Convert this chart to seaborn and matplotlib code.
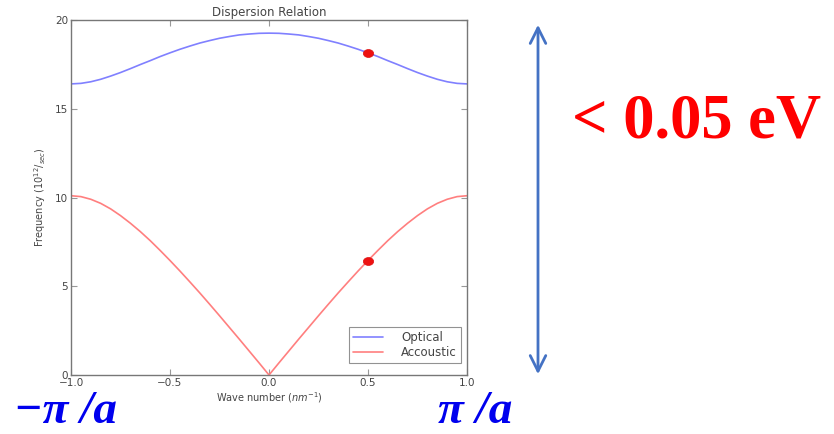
import matplotlib
matplotlib.use("Agg")
import matplotlib.pyplot as plt
from matplotlib.path import Path
from matplotlib.transforms import Affine2D
import seaborn as sns
import pandas as pd

# Wave number across the first Brillouin zone (nm^-1)
wave_number = [-1.0, -0.95, -0.9, -0.85, -0.8, -0.75, -0.7, -0.65, -0.6, -0.55,
               -0.5, -0.45, -0.4, -0.35, -0.3, -0.25, -0.2, -0.15, -0.1, -0.05,
               0.0, 0.05, 0.1, 0.15, 0.2, 0.25, 0.3, 0.35, 0.4, 0.45,
               0.5, 0.55, 0.6, 0.65, 0.7, 0.75, 0.8, 0.85, 0.9, 0.95, 1.0]

# Optical branch frequency (10^12 / sec)
optical = [16.40, 16.43, 16.52, 16.66, 16.84, 17.04, 17.26, 17.49, 17.71, 17.94,
           18.15, 18.35, 18.53, 18.70, 18.84, 18.97, 19.07, 19.16, 19.21, 19.25,
           19.26, 19.25, 19.21, 19.16, 19.07, 18.97, 18.84, 18.70, 18.53, 18.35,
           18.15, 17.94, 17.71, 17.49, 17.26, 17.04, 16.84, 16.66, 16.52, 16.43, 16.40]

# Acoustic branch frequency (10^12 / sec)
acoustic = [10.10, 10.05, 9.90, 9.67, 9.36, 8.98, 8.55, 8.08, 7.57, 7.02,
            6.45, 5.86, 5.25, 4.63, 3.99, 3.34, 2.68, 2.02, 1.35, 0.68,
            0.00, 0.68, 1.35, 2.02, 2.68, 3.34, 3.99, 4.63, 5.25, 5.86,
            6.45, 7.02, 7.57, 8.08, 8.55, 8.98, 9.36, 9.67, 9.90, 10.05, 10.10]

# Highlighted states at k = 0.5
marked_k = [0.5, 0.5]
marked_freq = [18.15, 6.45]

x_ticks = [-1.0, -0.5, 0.0, 0.5, 1.0]
x_tick_labels = ["\u22121.0", "\u22120.5", "0.0", "0.5", "1.0"]
y_ticks = [0, 5, 10, 15, 20]
y_tick_labels = ["0", "5", "10", "15", "20"]

sns.set_style("white")
plt.rcParams["font.family"] = ["DejaVu Sans"]

fig = plt.figure(figsize=(8.34, 4.34), dpi=100)
ax = fig.add_axes([71 / 834, 1 - 375 / 434, (467 - 71) / 834, (375 - 20) / 434])

branches = pd.DataFrame({
    "k": wave_number * 2,
    "freq": optical + acoustic,
    "branch": ["Optical"] * len(wave_number) + ["Accoustic"] * len(wave_number),
})
sns.lineplot(data=branches, x="k", y="freq", hue="branch",
             palette={"Optical": "#8080ff", "Accoustic": "#ff7f7f"},
             linewidth=1.2, ax=ax, sort=False, estimator=None)

# Slightly wide oval marker for the highlighted states
circle = Path.unit_circle()
oval = Path(Affine2D().scale(1.3, 1.0).transform(circle.vertices), circle.codes)
sns.scatterplot(x=marked_k, y=marked_freq, color="#ee1111", s=55, marker=oval,
                edgecolor="#dd1111", linewidth=0.5, ax=ax, zorder=5)

ax.set_xlim(-1.0, 1.0)
ax.set_ylim(0, 20)
ax.set_xticks(x_ticks)
ax.set_xticklabels(x_tick_labels)
ax.set_yticks(y_ticks)
ax.set_yticklabels(y_tick_labels)
ax.tick_params(direction="in", length=4, width=0.8, colors="#999999",
               labelcolor="#444444", labelsize=7.5, top=True, right=True,
               bottom=True, left=True, pad=2)
for spine in ax.spines.values():
    spine.set_color("#777777")
    spine.set_linewidth(1.0)

ax.set_title("Dispersion Relation", fontsize=8.5, color="#444444", pad=3)
ax.set_xlabel("Wave number ($nm^{-1}$)", fontsize=7, color="#444444", labelpad=2)
ax.set_ylabel("Frequency ($10^{12}/_{sec}$)", fontsize=7, color="#444444", labelpad=5)

leg = ax.legend(loc="lower right", fontsize=8.5, frameon=True, fancybox=False,
                borderpad=0.35, handlelength=2.6, handletextpad=1.5,
                labelspacing=0.15, borderaxespad=0,
                bbox_to_anchor=(1 - 6 / 396, 12 / 355))
leg.get_frame().set_edgecolor("#777777")
leg.get_frame().set_linewidth(0.8)
for txt in leg.get_texts():
    txt.set_color("#444444")

# Double-headed arrow spanning the frequency range
fig.patches.append(matplotlib.patches.FancyArrowPatch(
    (538 / 834, 1 - 377 / 434), (538 / 834, 1 - 22 / 434),
    transform=fig.transFigure, arrowstyle="<->,head_length=7,head_width=3.5",
    color="#4472c4", linewidth=2.0, mutation_scale=1.6))

fig.text(572 / 834, 1 - 123 / 434, "< 0.05 eV", color="#ff0000",
         fontsize=45, fontweight="bold", family=["Liberation Serif"],
         ha="left", va="center")
fig.text(14 / 834, 1 - 412 / 434, "\u2212\u03c0 /a", color="#0000ee",
         fontsize=34, fontweight="bold", fontstyle="italic",
         family=["Liberation Serif"], ha="left", va="center")
fig.text(438 / 834, 1 - 412 / 434, "\u03c0 /a", color="#0000ee",
         fontsize=34, fontweight="bold", fontstyle="italic",
         family=["Liberation Serif"], ha="left", va="center")

fig.savefig("out.png", dpi=100)
